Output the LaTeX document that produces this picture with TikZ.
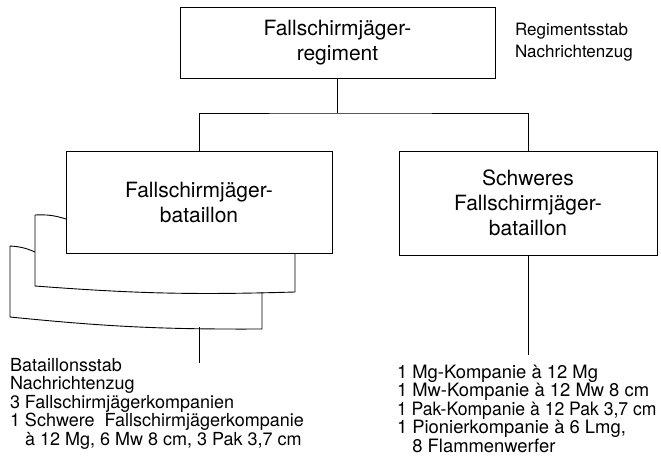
\documentclass[tikz,border=0pt]{standalone}
\usepackage{graphicx}
\usepackage{fontspec}
\setmainfont{TeX Gyre Heros}
\usetikzlibrary{positioning}

\begin{document}
\begin{tikzpicture}
[x=1pt,y=-1pt,
 every node/.style={inner sep=0pt,outer sep=0pt},
 unit/.style={draw=black,line width=0.9pt,align=center,font=\fontsize{21}{25}\selectfont},
 info/.style={align=left,font=\fontsize{17}{22}\selectfont},
 list/.style={align=left,font=\fontsize{18.4}{16.7}\selectfont},
 line width=0.9pt]
\useasboundingbox (0,0) rectangle (661,465);
\node[unit,minimum width=315pt,minimum height=71pt] (reg) at (337.5,42.5) {Fallschirmjäger-\\regiment};
\node[info] (regstab) [right=20pt of reg.east] {Regimentsstab\\Nachrichtenzug};
\node[unit,fill=white,minimum width=266pt,minimum height=102pt] (fjb)  [on grid,below  left=160pt and 138.5pt of reg] {Fallschirmjäger-\\bataillon};
\node[unit,minimum width=258pt,minimum height=104pt]            (sfjb) [on grid,below right=160.5pt and 190.5pt of reg] {Schweres\\Fallschirmjäger-\\bataillon};
\coordinate (split) at (337.5,113);
\path[draw] (reg)  -- (split);
\path[draw] (fjb.north) |- (split) -| (sfjb.north);
% stacked copies behind the bataillon
\draw (295,253) -- (295,292) to[bend left=3] (35,286) -- (35,215) to[bend left=10] (66,219);
\draw (262,292) -- (262,329) to[bend left=3] (10,317) -- (10,246) to[bend left=10] (35,252);
\coordinate (fjbtop)   at (199,327);
\coordinate (fjbfoot)  at (199,363);
\coordinate (sfjbfoot) at (528,355);
\path[draw] (fjbtop) -- (fjbfoot);
\path[draw] (sfjb.south) -- (sfjbfoot);
\node[list,anchor=north west,font=\fontsize{18}{18.5}\selectfont] (fjblist) at (10,358)
  {Bataillonsstab\\Nachrichtenzug\\3 Fallschirmjägerkompanien\\1 Schwere\ \ Fallschirmjägerkompanie\\\hphantom{1 }à 12 Mg, 6 Mw 8 cm, 3 Pak 3,7 cm};
\node[list,anchor=north west] (sfjblist) at (397,365)
  {1 Mg-Kompanie à 12 Mg\\1 Mw-Kompanie à 12 Mw 8 cm\\\scalebox{0.955}[1]{1 Pak-Kompanie à 12 Pak 3,7 cm}\\1 Pionierkompanie à 6 Lmg,\\\hphantom{1 }8 Flammenwerfer};
\end{tikzpicture}
\end{document}
